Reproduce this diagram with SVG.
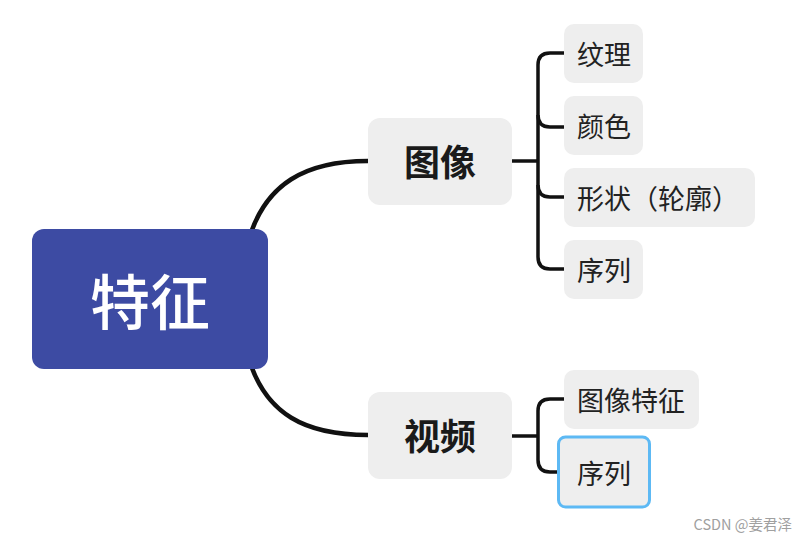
<svg xmlns="http://www.w3.org/2000/svg" width="808" height="542" viewBox="0 0 808 542">
<style>
.cjk{font-family:"Noto Sans CJK SC","Noto Sans",sans-serif}
.leaf rect{fill:#EEEEEE}
.leaf text{font-size:27px;fill:#222222;dominant-baseline:central}
.mid rect{fill:#EEEEEE}
.mid text{font-size:36px;font-weight:bold;fill:#1a1a1a;text-anchor:middle;dominant-baseline:central}
.conn path{fill:none;stroke:#111111;stroke-linecap:butt}
</style>
<rect width="808" height="542" fill="#FFFFFF"/>
<g id="connectors" class="conn">
<path d="M 246,250 C 262,180 310,161 368,161" stroke-width="4.5"/>
<path d="M 246,348 C 262,418 310,435 368,435" stroke-width="4.5"/>
<path d="M 512,161 H 538" stroke-width="3.5"/>
<path d="M 564,53 H 550 Q 538,53 538,65 V 257 Q 538,269 550,269 H 564" stroke-width="3.5"/>
<path d="M 538,115 Q 538,127 550,127 H 564" stroke-width="3.5"/>
<path d="M 538,185 Q 538,197 550,197 H 564" stroke-width="3.5"/>
<path d="M 512,436 H 538" stroke-width="3.5"/>
<path d="M 564,399 H 550 Q 538,399 538,411 V 460 Q 538,472 550,472 H 564" stroke-width="3.5"/>
</g>
<g id="root">
<rect x="32" y="229" width="236" height="140" rx="12" fill="#3D4BA3"/>
<text x="150" y="298" class="cjk" font-size="60" font-weight="500" fill="#FFFFFF" text-anchor="middle" dominant-baseline="central">特征</text>
</g>
<g id="n-image" class="mid cjk">
<rect x="368" y="118" width="144" height="87" rx="12"/>
<text x="440" y="160">图像</text>
</g>
<g id="n-video" class="mid cjk">
<rect x="368" y="392" width="144" height="87" rx="12"/>
<text x="440" y="434">视频</text>
</g>
<g id="l-texture" class="leaf cjk">
<rect x="564" y="24" width="79" height="59" rx="10"/>
<text x="577" y="53">纹理</text>
</g>
<g id="l-color" class="leaf cjk">
<rect x="564" y="96" width="79" height="59" rx="10"/>
<text x="577" y="125">颜色</text>
</g>
<g id="l-shape" class="leaf cjk">
<rect x="564" y="168" width="191" height="59" rx="10"/>
<text x="577" y="197">形状（轮廓）</text>
</g>
<g id="l-seq1" class="leaf cjk">
<rect x="564" y="240" width="79" height="59" rx="10"/>
<text x="577" y="269">序列</text>
</g>
<g id="l-imgfeat" class="leaf cjk">
<rect x="564" y="370" width="135" height="59" rx="10"/>
<text x="577" y="399">图像特征</text>
</g>
<g id="l-seq2" class="leaf cjk">
<rect x="564" y="443" width="79" height="59" rx="10"/>
<rect x="558.5" y="437" width="91" height="70" rx="7" fill="none" stroke="#5DB9F4" stroke-width="3"/>
<text x="577" y="472">序列</text>
</g>
<text x="792" y="530" class="cjk" font-size="14.5" fill="#A0A0A0" text-anchor="end">CSDN @姜君泽</text>
</svg>
